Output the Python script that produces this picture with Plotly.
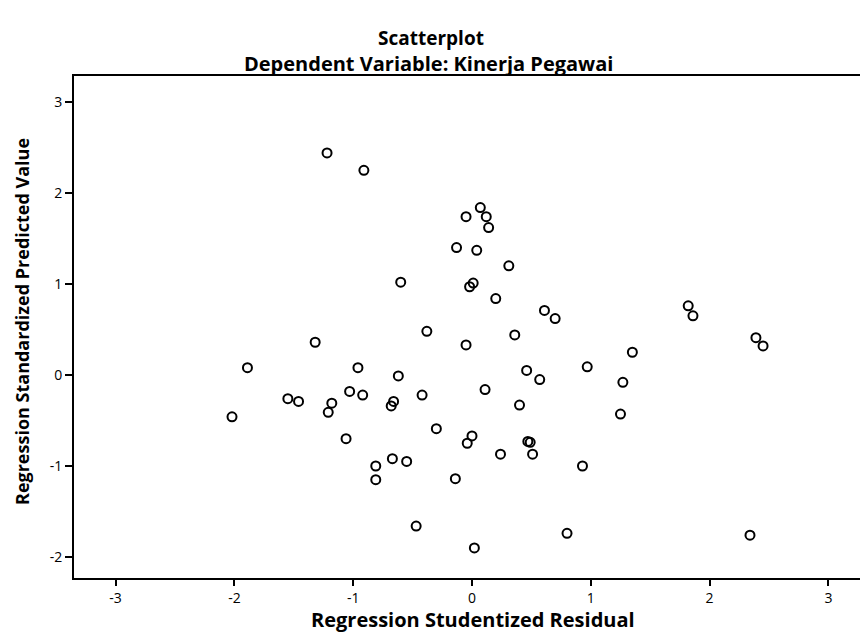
import plotly.graph_objects as go

# Regression Studentized Residual (x) and Regression Standardized Predicted Value (y)
residual = [-1.22, -0.91, 0.07, -0.05, 0.12, 0.14, -0.13, 0.04, 0.31, -0.60,
            0.01, -0.02, 0.20, 0.61, 0.70, 0.36, 1.82, 1.86, 2.39, 2.45,
            1.35, 0.97, 0.46, 0.57, 1.27, 0.40, 1.25, 0.47, 0.49, -0.38,
            -1.32, -0.05, -1.89, -0.96, -0.62, -1.03, -0.92, 0.11, -1.55, -1.46,
            -1.18, -1.21, -0.66, -0.68, -0.42, -2.02, -1.06, -0.30, 0.00, -0.04,
            0.24, 0.51, 0.93, -0.67, -0.55, -0.81, -0.81, -0.14, -0.47, 0.02,
            0.80, 2.34]
predicted = [2.44, 2.25, 1.84, 1.74, 1.74, 1.62, 1.40, 1.37, 1.20, 1.02,
             1.01, 0.97, 0.84, 0.71, 0.62, 0.44, 0.76, 0.65, 0.41, 0.32,
             0.25, 0.09, 0.05, -0.05, -0.08, -0.33, -0.43, -0.73, -0.74, 0.48,
             0.36, 0.33, 0.08, 0.08, -0.01, -0.18, -0.22, -0.16, -0.26, -0.29,
             -0.31, -0.41, -0.29, -0.34, -0.22, -0.46, -0.70, -0.59, -0.67, -0.75,
             -0.87, -0.87, -1.00, -0.92, -0.95, -1.00, -1.15, -1.14, -1.66, -1.90,
             -1.74, -1.76]
tick_vals = [-3, -2, -1, 0, 1, 2, 3]
tick_text = ["-3", "-2", "-1", "0", "1", "2", "3"]
ytick_vals = [-2, -1, 0, 1, 2, 3]
ytick_text = ["-2", "-1", "0", "1", "2", "3"]

FONT = "Open Sans"
L, R, T, B = 74, 0, 76, 59
W, H = 860, 637
pw = W - L - R
ph = H - T - B

fig = go.Figure()
fig.add_trace(go.Scatter(
    x=residual, y=predicted, mode="markers",
    marker=dict(symbol="circle-open", size=9, color="black", line=dict(width=2, color="black")),
    showlegend=False, hoverinfo="x+y",
))

fig.update_layout(
    width=W, height=H,
    margin=dict(l=L, r=R, t=T, b=B),
    paper_bgcolor="white", plot_bgcolor="white",
    font=dict(family=FONT, color="black"),
    xaxis=dict(range=[-3.35, 3.266], tickvals=tick_vals, ticktext=tick_text,
               showgrid=False, zeroline=False, showline=True, mirror=True,
               linecolor="black", linewidth=2, ticks="outside", ticklen=6,
               tickwidth=1.5, tickcolor="black", tickfont=dict(size=14, family=FONT)),
    yaxis=dict(range=[-2.231, 3.286], tickvals=ytick_vals, ticktext=ytick_text,
               showgrid=False, zeroline=False, showline=True, mirror=False,
               linecolor="black", linewidth=2, ticks="outside", ticklen=7,
               tickwidth=1.5, tickcolor="black", tickfont=dict(size=14, family=FONT)),
    annotations=[
        dict(text="<b>Scatterplot</b>", xref="paper", yref="paper",
             x=(431 - L) / pw, y=1 + (T - 38) / ph, xanchor="center", yanchor="middle",
             showarrow=False, font=dict(size=19, family=FONT)),
        dict(text="<b>Dependent Variable: Kinerja Pegawai</b>", xref="paper", yref="paper",
             x=(428 - L) / pw, y=1 + (T - 63) / ph, xanchor="center", yanchor="middle",
             showarrow=False, font=dict(size=20, family=FONT)),
        dict(text="<b>Regression Studentized Residual</b>", xref="paper", yref="paper",
             x=(473 - L) / pw, y=-(619 - (T + ph)) / ph, xanchor="center", yanchor="middle",
             showarrow=False, font=dict(size=20, family=FONT)),
        dict(text="<b>Regression Standardized Predicted Value</b>", xref="paper", yref="paper",
             x=-(L - 22) / pw, y=1 - (322 - T) / ph, xanchor="center", yanchor="middle",
             textangle=-90, showarrow=False, font=dict(size=18, family=FONT)),
    ],
)

fig.write_html("out.html")
